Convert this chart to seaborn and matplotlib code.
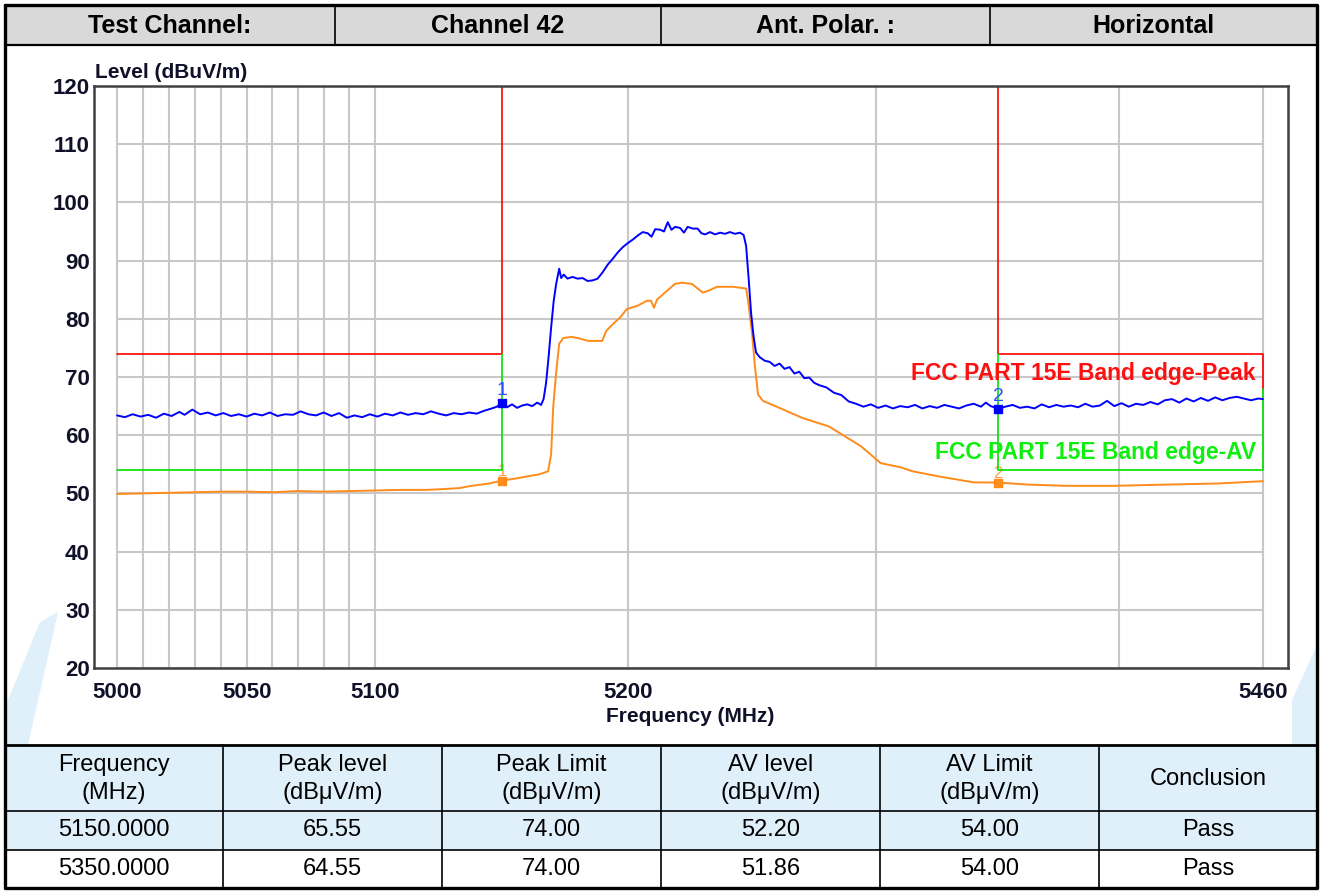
import numpy as np
import pandas as pd
import matplotlib
matplotlib.use("Agg")
import matplotlib.pyplot as plt
from matplotlib.patches import Rectangle, Polygon
from matplotlib.lines import Line2D
from matplotlib.ticker import NullLocator
import seaborn as sns

# ---------------- data ----------------
header_cells = ["Test Channel:", "Channel 42", "Ant. Polar. :", "Horizontal"]

# Peak trace (blue), frequency in MHz / level in dBuV/m
peak_freq = [5000, 5003, 5006, 5009, 5012, 5015, 5018, 5021, 5024, 5026, 5029, 5032, 5035, 5038,
             5041, 5044, 5047, 5050, 5053, 5056, 5059, 5062, 5065, 5068, 5071, 5074, 5077, 5080,
             5083, 5086, 5089, 5092, 5095, 5098, 5101, 5104, 5107, 5110, 5113, 5116, 5119, 5122,
             5125, 5128, 5131, 5134, 5137, 5140, 5143, 5146, 5148, 5150, 5152, 5154, 5156, 5158,
             5160, 5162, 5164, 5165.5, 5166.5, 5167.5, 5168.5, 5169.5, 5170.5, 5171.5, 5172.7,
             5173.5, 5174.5, 5176, 5178, 5180, 5182, 5184, 5186, 5188, 5190, 5192, 5194, 5196,
             5198, 5200, 5202, 5204, 5206, 5208, 5209.5, 5211, 5213, 5214.5, 5216, 5217.5, 5219,
             5221, 5222.5, 5224, 5226, 5228, 5229.5, 5231, 5233, 5235, 5237, 5239, 5241, 5243,
             5245, 5246.5, 5247.5, 5248.5, 5249.5, 5250.5, 5251.5, 5253, 5255, 5257, 5259, 5261,
             5263, 5265, 5267, 5269, 5271, 5273, 5275, 5277, 5280, 5283, 5286, 5289, 5292, 5295,
             5298, 5301, 5304, 5307, 5310, 5313, 5316, 5319, 5322, 5325, 5328, 5331, 5334, 5337,
             5340, 5343, 5345, 5347, 5350, 5353, 5356, 5359, 5362, 5365, 5368, 5371, 5374, 5377,
             5380, 5383, 5386, 5389, 5392, 5395, 5398, 5401, 5404, 5407, 5410, 5413, 5416, 5419,
             5422, 5425, 5428, 5431, 5434, 5437, 5440, 5443, 5446, 5449, 5452, 5455, 5458, 5460]
peak_vals = [63.4, 63.1, 63.6, 63.2, 63.5, 63.0, 63.7, 63.3, 64.0, 63.5, 64.4, 63.6, 63.9, 63.4,
             63.8, 63.3, 63.6, 63.2, 63.7, 63.4, 63.9, 63.3, 63.6, 63.5, 64.1, 63.6, 63.4, 63.9,
             63.3, 63.8, 63.0, 63.4, 63.1, 63.6, 63.2, 63.7, 63.4, 63.9, 63.5, 63.8, 63.6, 64.1,
             63.7, 63.4, 63.8, 63.6, 63.9, 63.7, 64.2, 64.6, 64.9, 65.55, 64.8, 65.3, 64.7, 65.1,
             65.3, 65.0, 65.6, 65.2, 66.2, 69.0, 73.5, 78.5, 83.0, 86.0, 88.6,
             87.0, 87.6, 86.9, 87.2, 86.9, 87.0, 86.5, 86.6, 86.9, 88.0, 89.3, 90.3, 91.4,
             92.3, 93.0, 93.6, 94.3, 94.9, 94.7, 94.1, 95.4, 95.3, 95.0, 96.6, 95.3, 95.8,
             95.6, 94.8, 95.8, 95.5, 95.5, 94.7, 94.5, 94.9, 94.5, 94.8, 94.6, 94.9, 94.6,
             94.8, 94.4, 92.5, 87.0, 81.0, 77.0, 74.2, 73.4, 72.8, 72.6, 71.9, 72.3,
             71.4, 71.7, 70.6, 70.9, 69.8, 69.9, 69.0, 68.6, 68.2, 67.3, 66.9, 65.8, 65.4, 64.9,
             65.3, 64.7, 65.1, 64.6, 65.0, 64.8, 65.2, 64.6, 65.0, 64.7, 65.2, 64.9, 64.6, 65.1,
             65.4, 64.9, 65.6, 65.0, 64.55, 64.9, 65.2, 64.7, 64.9, 64.6, 65.3, 64.8, 65.2, 64.9,
             65.1, 64.8, 65.4, 64.9, 65.1, 65.9, 65.0, 65.5, 64.9, 65.4, 65.2, 65.7, 65.3, 66.0,
             66.2, 65.6, 66.3, 65.8, 66.4, 65.9, 66.5, 66.0, 66.4, 66.6, 66.3, 66.0, 66.3, 66.2]

# Average trace (orange)
avg_freq = [5000, 5010, 5020, 5030, 5040, 5050, 5060, 5070, 5080, 5090, 5100, 5110, 5120, 5125,
            5133, 5138, 5145, 5150, 5156, 5161, 5165, 5168.3, 5169.5, 5170.3, 5171.5, 5172.7,
            5174.3, 5177.8, 5181, 5184.2, 5189.8, 5191.4, 5194.1, 5196.9, 5199.7, 5203.7, 5207.7,
            5209.3, 5210.5, 5211.7, 5215.7, 5218.9, 5221.7, 5225.7, 5227.7, 5230.1, 5232.2, 5235.8,
            5242.3, 5247.5, 5248.3, 5249.9, 5251.1, 5252.3, 5254.3, 5262, 5270, 5281, 5294, 5302,
            5310, 5315, 5326, 5340, 5350, 5363, 5378, 5398, 5418, 5441, 5460]
avg_vals = [49.9, 50.0, 50.1, 50.2, 50.3, 50.3, 50.2, 50.4, 50.3, 50.4, 50.5, 50.6, 50.6, 50.7,
            50.9, 51.3, 51.7, 52.2, 52.6, 53.0, 53.3, 53.8, 56.7, 64.7, 70.8, 75.7,
            76.7, 76.9, 76.6, 76.2, 76.2, 77.9, 79.1, 80.2, 81.7, 82.2, 83.1,
            83.1, 81.9, 83.3, 84.8, 86.0, 86.2, 86.0, 85.3, 84.5, 84.8, 85.5,
            85.5, 85.2, 83.1, 77.4, 71.6, 67.0, 65.9, 64.5, 63.0, 61.5, 58.1, 55.2,
            54.5, 53.8, 52.9, 51.9, 51.86, 51.5, 51.3, 51.3, 51.5, 51.7, 52.1]

# Limit lines
peak_limit_freq_a = [5000, 5150, 5150]
peak_limit_vals_a = [74, 74, 120]
peak_limit_freq_b = [5350, 5350, 5460, 5460]
peak_limit_vals_b = [120, 74, 74, 68]
av_limit_freq_a = [5000, 5150, 5150]
av_limit_vals_a = [54, 54, 74]
av_limit_freq_b = [5350, 5350, 5460, 5460]
av_limit_vals_b = [74, 54, 54, 68]

# Markers / result table
marker_ids = ["1", "2"]
marker_freq = [5150.0, 5350.0]
peak_level = [65.55, 64.55]
peak_limit = [74.00, 74.00]
av_level = [52.20, 51.86]
av_limit = [54.00, 54.00]
conclusion = ["Pass", "Pass"]
table_headers = ["Frequency\n(MHz)", "Peak level\n(dBμV/m)", "Peak Limit\n(dBμV/m)",
                 "AV level\n(dBμV/m)", "AV Limit\n(dBμV/m)", "Conclusion"]

# Axis ticks / grid
x_ticks = [5000, 5050, 5100, 5200, 5460]
x_tick_labels = ["5000", "5050", "5100", "5200", "5460"]
x_grid = [5000, 5010, 5020, 5030, 5040, 5050, 5060, 5070, 5080, 5090, 5100, 5200, 5300, 5400, 5460]
y_ticks = [20, 30, 40, 50, 60, 70, 80, 90, 100, 110, 120]

# ---------------- style ----------------
sns.set_style("white")
plt.rcParams['font.family'] = ['Liberation Sans', 'DejaVu Sans']

W, H = 1324, 891
fig = plt.figure(figsize=(W / 100, H / 100), dpi=100)
fig.patch.set_facecolor('white')


def frect(x0, y0, x1, y1, **kw):
    fig.add_artist(Rectangle((x0 / W, 1 - y1 / H), (x1 - x0) / W, (y1 - y0) / H,
                             transform=fig.transFigure, **kw))


def fline(xs, ys, **kw):
    fig.add_artist(Line2D([x / W for x in xs], [1 - y / H for y in ys],
                          transform=fig.transFigure, **kw))


def fpoly(pts, **kw):
    fig.add_artist(Polygon([(x / W, 1 - y / H) for x, y in pts], closed=True,
                           transform=fig.transFigure, **kw))


LB = '#e0f0fb'
# watermark swooshes
fpoly([(6, 745), (6, 705), (40, 622), (58, 612), (28, 745)], facecolor=LB, edgecolor='none', zorder=-2)
fpoly([(1292, 745), (1292, 700), (1317, 645), (1317, 745)], facecolor=LB, edgecolor='none', zorder=-2)

# ---------------- plot axes ----------------
ax = fig.add_axes([94 / W, 1 - 668 / H, (1288 - 94) / W, (668 - 86) / H])
ax.set_xscale('log')
lo, hi = min(x_grid), max(x_grid)
ax.set_xlim(lo * np.exp(-0.00177), hi * np.exp(0.00192))
ax.set_ylim(min(y_ticks), max(y_ticks))
ax.set_facecolor('white')

ax.vlines(x_grid, min(y_ticks), max(y_ticks), color='#c8c8c8', lw=1.5, zorder=0)
ax.hlines(y_ticks, lo, hi, color='#c8c8c8', lw=1.5, zorder=0)

# limit lines
ax.plot(peak_limit_freq_a, peak_limit_vals_a, color='#ff0000', lw=1.2, zorder=2)
ax.plot(peak_limit_freq_b, peak_limit_vals_b, color='#ff0000', lw=1.2, zorder=2)
ax.plot(av_limit_freq_a, av_limit_vals_a, color='#00e000', lw=1.2, zorder=2)
ax.plot(av_limit_freq_b, av_limit_vals_b, color='#00e000', lw=1.2, zorder=2)

# traces
peak_df = pd.DataFrame({"freq": peak_freq, "level": peak_vals})
avg_df = pd.DataFrame({"freq": avg_freq, "level": avg_vals})
sns.lineplot(data=avg_df, x="freq", y="level", ax=ax, color='#ff8c1a', lw=1.4,
             estimator=None, sort=False, legend=False, zorder=3)
sns.lineplot(data=peak_df, x="freq", y="level", ax=ax, color='#0000ff', lw=1.4,
             estimator=None, sort=False, legend=False, zorder=4)

# markers
ax.scatter(marker_freq, peak_level, marker='s', s=30, color='#0000ff', zorder=5)
ax.scatter(marker_freq, av_level, marker='s', s=30, color='#ff8c1a', zorder=5)
for mid, f, pv, av in zip(marker_ids, marker_freq, peak_level, av_level):
    ax.annotate(mid, (f, pv), xytext=(0, 3), textcoords='offset points', ha='center',
                va='bottom', fontsize=14, color='#3050ff', zorder=6)
    ax.annotate(mid, (f, av), xytext=(0, 1), textcoords='offset points', ha='center',
                va='bottom', fontsize=12, color='#ffa050', zorder=1)

# limit labels
ax.text(5457, peak_limit[0] - 3.4, "FCC PART 15E Band edge-Peak", color='#ff1010',
        fontsize=16.5, fontweight='bold', ha='right', va='center', zorder=6)
ax.text(5457, av_limit[0] + 3.0, "FCC PART 15E Band edge-AV", color='#10ee10',
        fontsize=16.5, fontweight='bold', ha='right', va='center', zorder=6)

# ticks
ax.xaxis.set_minor_locator(NullLocator())
ax.set_xticks(x_ticks)
ax.set_xticklabels(x_tick_labels)
ax.set_yticks(y_ticks)
ax.set_yticklabels([str(v) for v in y_ticks])
ax.tick_params(axis='x', length=0, pad=10, labelsize=16, labelcolor='#101028')
ax.tick_params(axis='y', length=0, pad=3, labelsize=16, labelcolor='#101028')
for lbl in ax.get_xticklabels() + ax.get_yticklabels():
    lbl.set_fontweight('bold')
ax.set_xlabel("")
ax.set_ylabel("")
for s in ax.spines.values():
    s.set_color('#404040')
    s.set_linewidth(1.8)
    s.set_visible(True)

fig.text(95 / W, 1 - 72 / H, "Level (dBuV/m)", fontsize=15, fontweight='bold',
         color='#101028', ha='left', va='center')
fig.text(690 / W, 1 - 716 / H, "Frequency (MHz)", fontsize=15, fontweight='bold',
         color='#101028', ha='center', va='center')

# ---------------- header table ----------------
frect(5, 5, 1317, 45, facecolor='#d9d9d9', edgecolor='none', zorder=-1)
hx = [5, 335, 661, 990, 1317]
for i, txt in enumerate(header_cells):
    fig.text((hx[i] + hx[i + 1]) / 2 / W, 1 - 26 / H, txt, fontsize=18, fontweight='bold',
             ha='center', va='center', color='black')
for x in hx[1:-1]:
    fline([x, x], [5, 45], color='black', lw=1.2)
fline([5, 1317], [45, 45], color='black', lw=1.6)

# ---------------- result table ----------------
tx = [5, 223, 442, 661, 880, 1099, 1317]
ty = [745, 811, 850, 888]
frect(5, 745, 1317, 850, facecolor=LB, edgecolor='none', zorder=-1)
for i, txt in enumerate(table_headers):
    fig.text((tx[i] + tx[i + 1]) / 2 / W, 1 - 779 / H, txt, fontsize=17, ha='center',
             va='center', linespacing=1.4, color='black')
rows = []
for i in range(len(marker_freq)):
    rows.append([f"{marker_freq[i]:.4f}", f"{peak_level[i]:.2f}", f"{peak_limit[i]:.2f}",
                 f"{av_level[i]:.2f}", f"{av_limit[i]:.2f}", conclusion[i]])
for r, row in enumerate(rows):
    yc = (ty[r + 1] + ty[r + 2]) / 2
    for c, txt in enumerate(row):
        fig.text((tx[c] + tx[c + 1]) / 2 / W, 1 - yc / H, txt, fontsize=17, ha='center',
                 va='center', color='black')
for x in tx[1:-1]:
    fline([x, x], [745, 888], color='black', lw=1.2)
for y in ty[1:-1]:
    fline([5, 1317], [y, y], color='black', lw=1.2)
fline([5, 1317], [745, 745], color='black', lw=2.0)

# outer border
fline([5, 1317, 1317, 5, 5], [5, 5, 888, 888, 5], color='black', lw=2.4)

fig.savefig("out.png", dpi=100)
